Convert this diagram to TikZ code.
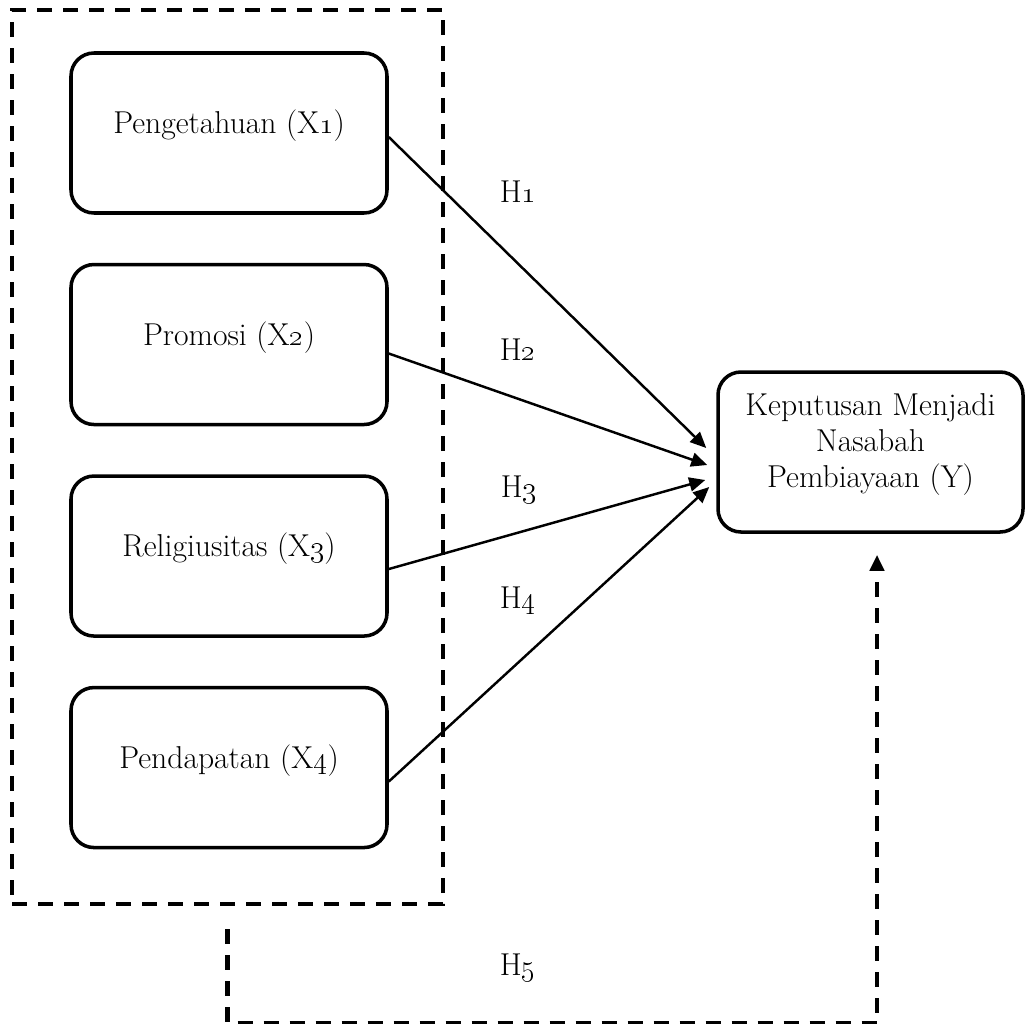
\documentclass[tikz,border=0pt]{standalone}
\usetikzlibrary{arrows.meta,positioning}
\begin{document}
\begin{tikzpicture}[>={Triangle[length=.32cm,width=.28cm]},node distance=.96cm,
 var/.style={draw,line width=2pt,rounded corners=.46cm,minimum width=6.32cm,minimum height=3.2cm,align=center,text depth=.45cm,font=\fontsize{18}{20.5}\selectfont},
 dsh/.style={line width=2.3pt,dash pattern=on .3cm off .22cm},
 hyp/.style={anchor=base,font=\fontsize{18}{20}\selectfont},
 arr/.style={->,line width=1.4pt}]
\useasboundingbox (0,0) rectangle (20.5,-20.46);
% kelompok variabel X
\node[dsh,draw,minimum width=8.62cm,minimum height=17.88cm] (grp) at (4.55,-9.14) {};
\node[var] (x1) at (4.58,-2.66) {Pengetahuan (X\oldstylenums{1})};
\node[var,below=of x1] (x2) {Promosi (X\oldstylenums{2})};
\node[var,below=of x2] (x3) {Religiusitas (X\oldstylenums{3})};
\node[var,below=of x3] (x4) {Pendapatan (X\oldstylenums{4})};
\node[var,minimum width=6.1cm] (y) at (17.41,-9.04) {Keputusan Menjadi\\Nasabah\\Pembiayaan (Y)};
\draw[arr] ([yshift=-.08cm]x1.east)--([xshift=-.2cm,yshift=.08cm]y.west);
\draw[arr] ([yshift=-.18cm]x2.east)--([xshift=-.18cm,yshift=-.26cm]y.west);
\draw[arr] ([yshift=-.26cm]x3.east)--([xshift=-.22cm,yshift=-.56cm]y.west);
\draw[arr] ([yshift=-.28cm]x4.east)--([xshift=-.14cm,yshift=-.7cm]y.west);
\draw[dsh,->] ([yshift=-.46cm]grp.south)--++(0,-1.88)-|([xshift=.13cm,yshift=-.42cm]y.south);
\node[hyp] (h1) at (10.36,-4.04) {H\oldstylenums{1}};
\node[hyp] (h2) at (10.36,-7.2) {H\oldstylenums{2}};
\node[hyp] (h3) at (10.38,-9.94) {H\oldstylenums{3}};
\node[hyp] (h4) at (10.36,-12.16) {H\oldstylenums{4}};
\node[hyp] (h5) at (10.36,-19.5) {H\oldstylenums{5}};
\end{tikzpicture}
\end{document}
